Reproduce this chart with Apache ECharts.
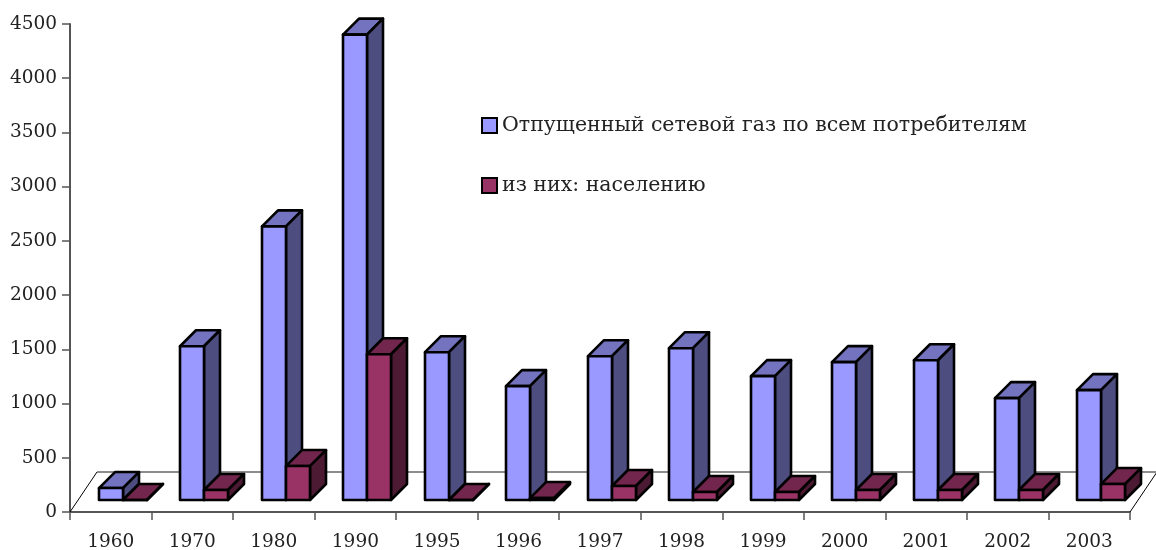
<!DOCTYPE html>
<html>
<head>
<meta charset="utf-8">
<style>
  html, body { margin: 0; padding: 0; background: #fff; }
  #chart { width: 1156px; height: 550px; }
</style>
<script src="https://cdn.jsdelivr.net/npm/echarts@6/dist/echarts.min.js"></script>
</head>
<body>
<div id="chart"></div>
<script>
var years = ["1960", "1970", "1980", "1990", "1995", "1996", "1997", "1998", "1999", "2000", "2001", "2002", "2003"];
var totalGas = [110, 1418, 2523, 4291, 1363, 1050, 1326, 1400, 1142, 1271, 1289, 939, 1013];
var households = [0, 92, 313, 1344, 0, 18, 129, 74, 74, 92, 92, 92, 147];

var FONT = '"DejaVu Serif", serif';
var TEXT = "#222";
// depth of the fake 3d box, and how far bars stand in from the front of the floor
var DEPTH = 16;
var BASE_LIFT = 12;
var FLOOR_X = 27;
var FLOOR_Y = 40;

function poly(points, fill) {
  return {
    type: "polygon",
    shape: { points: points },
    style: { fill: fill, stroke: "#000", lineWidth: 2.6, lineJoin: "round" }
  };
}

function barRenderer(slot, colors) {
  return function(params, api) {
    var i = api.value(0);
    var band = api.size([1, 0])[0];
    var start = api.coord([i, 0])[0] - band / 2;
    var w = band * 0.2945;
    var x0 = Math.round(start + band * 0.35 + w * slot);
    var x1 = Math.round(start + band * 0.35 + w * (slot + 1));
    var y0 = api.coord([i, 0])[1] - BASE_LIFT;
    var y1 = api.coord([i, api.value(1)])[1] - BASE_LIFT;
    return {
      type: "group",
      children: [
        poly([[x0, y1], [x1, y1], [x1 + DEPTH, y1 - DEPTH], [x0 + DEPTH, y1 - DEPTH]], colors[1]),
        poly([[x1, y0], [x1 + DEPTH, y0 - DEPTH], [x1 + DEPTH, y1 - DEPTH], [x1, y1]], colors[2]),
        poly([[x0, y0], [x1, y0], [x1, y1], [x0, y1]], colors[0])
      ]
    };
  };
}

function floorRenderer(params, api) {
  var band = api.size([1, 0])[0];
  var first = api.coord([0, 0]);
  var xl = first[0] - band / 2;
  var xr = xl + band * years.length;
  var y = first[1];
  function line(x1, y1, x2, y2, color, width) {
    return {
      type: "line",
      shape: { x1: x1, y1: y1, x2: x2, y2: y2 },
      style: { stroke: color, lineWidth: width }
    };
  }
  return {
    type: "group",
    children: [
      line(xl, y, xl + FLOOR_X, y - FLOOR_Y, "#000", 1),
      line(xr, y, xr + FLOOR_X, y - FLOOR_Y, "#000", 1),
      line(xl + FLOOR_X, y - FLOOR_Y, xr + FLOOR_X, y - FLOOR_Y, "#666", 1.5)
    ]
  };
}

function toPairs(values) {
  return values.map(function(v, i) { return [i, v]; });
}

var myChart = echarts.init(document.getElementById("chart"));
myChart.setOption({
  animation: false,
  backgroundColor: "#fff",
  grid: { left: 70, right: 26, top: 24, bottom: 38, outerBoundsMode: "none" },
  legend: {
    orient: "vertical",
    left: 476,
    top: 110,
    itemWidth: 15,
    itemHeight: 15,
    itemGap: 39,
    icon: "rect",
    data: ["Отпущенный сетевой газ по всем потребителям", "из них: населению"],
    textStyle: { fontFamily: FONT, fontSize: 20.5, color: TEXT }
  },
  xAxis: {
    type: "category",
    data: years,
    axisLine: { lineStyle: { color: "#555", width: 2 } },
    axisTick: { show: true, length: 8, lineStyle: { color: "#555", width: 1.5 } },
    axisLabel: { fontFamily: FONT, fontSize: 18.5, color: TEXT, margin: 21, interval: 0 }
  },
  yAxis: {
    type: "value",
    min: 0,
    max: 4500,
    interval: 500,
    splitLine: { show: false },
    axisLine: { show: true, lineStyle: { color: "#555", width: 2 } },
    axisTick: { show: true, length: 8, lineStyle: { color: "#555", width: 1.5 } },
    axisLabel: {
      fontFamily: FONT,
      fontSize: 18.5,
      color: TEXT,
      margin: 13,
      formatter: function(v) { return String(v); }
    }
  },
  series: [
    {
      name: "floor",
      type: "custom",
      silent: true,
      z: 1,
      renderItem: floorRenderer,
      data: [[0, 0]]
    },
    {
      name: "Отпущенный сетевой газ по всем потребителям",
      type: "custom",
      z: 2,
      itemStyle: { color: "#9999ff", borderColor: "#000", borderWidth: 2 },
      renderItem: barRenderer(0, ["#9999ff", "#7373bf", "#4d4d80"]),
      encode: { x: 0, y: 1 },
      data: toPairs(totalGas)
    },
    {
      name: "из них: населению",
      type: "custom",
      z: 3,
      itemStyle: { color: "#993366", borderColor: "#000", borderWidth: 2 },
      renderItem: barRenderer(1, ["#993366", "#73264d", "#4d1a33"]),
      encode: { x: 0, y: 1 },
      data: toPairs(households)
    }
  ]
});
</script>
</body>
</html>
